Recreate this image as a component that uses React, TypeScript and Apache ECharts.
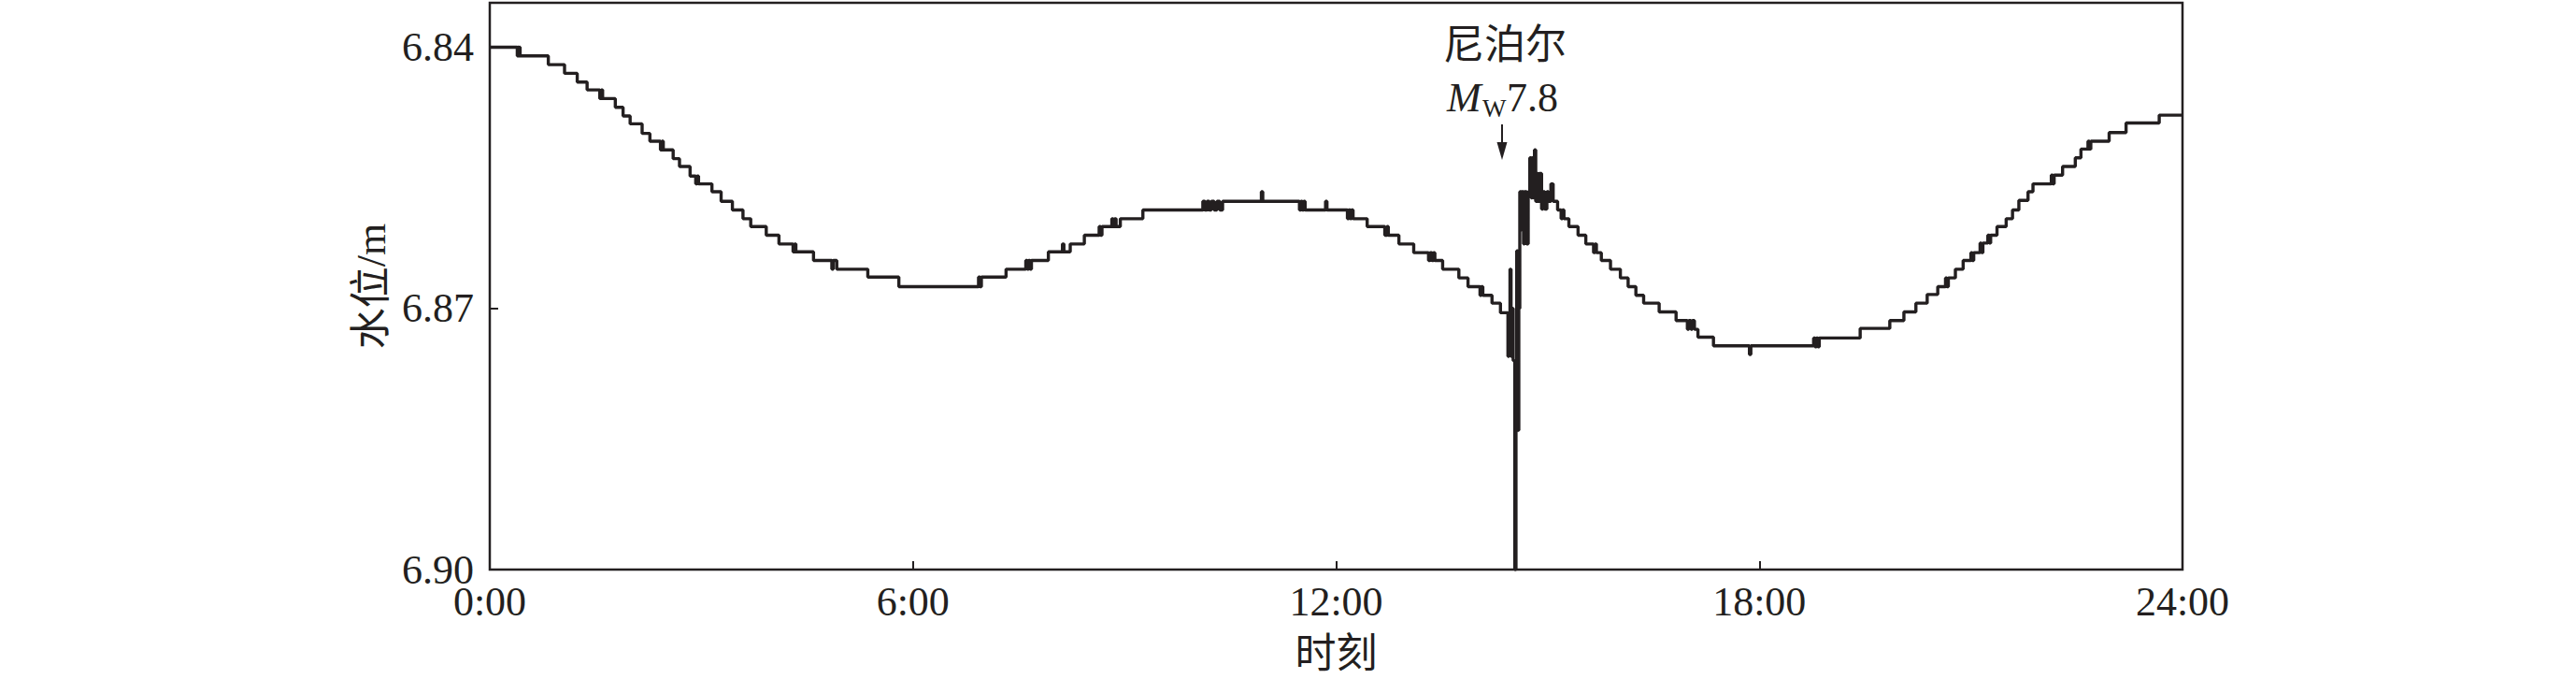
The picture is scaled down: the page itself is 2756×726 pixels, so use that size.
import { useEffect, useRef } from "react";
import * as echarts from "echarts";

// ---- data (hours since 0:00, water level in m) ----
const xTickHours = [0, 6, 12, 18, 24];
const yTickValues = [6.84, 6.87, 6.9];

const morningSteps: [number, number][] = [
  [0, 6.84], [0.39, 6.841], [0.4, 6.84], [0.41, 6.841], [0.42, 6.84], [0.43, 6.841],
  [0.83, 6.842], [1.06, 6.843], [1.24, 6.844], [1.38, 6.8449],
  [1.56, 6.8459], [1.58, 6.8449], [1.6, 6.8459],
  [1.78, 6.8469], [1.89, 6.8479], [1.99, 6.8488], [2.16, 6.8499], [2.27, 6.8508],
  [2.42, 6.8518], [2.44, 6.8508], [2.46, 6.8518],
  [2.6, 6.8528], [2.69, 6.8537], [2.84, 6.8548],
  [2.92, 6.8557], [2.94, 6.8548], [2.96, 6.8557],
  [3.15, 6.8566], [3.28, 6.8577], [3.44, 6.8587], [3.59, 6.8597], [3.7, 6.8606],
  [3.92, 6.8616], [4.1, 6.8626],
  [4.3, 6.8635], [4.32, 6.8626], [4.34, 6.8635],
  [4.59, 6.8645],
  [4.85, 6.8655], [4.87, 6.8645], [4.92, 6.8655],
  [5.36, 6.8664], [5.8, 6.8675],
];

const riseSteps: [number, number][] = [
  [6.93, 6.8664], [6.95, 6.8675], [6.97, 6.8664],
  [7.32, 6.8655], [7.6, 6.8645], [7.62, 6.8655], [7.64, 6.8645], [7.66, 6.8655], [7.68, 6.8645],
  [7.92, 6.8635], [8.12, 6.8626], [8.14, 6.8635], [8.23, 6.8626], [8.43, 6.8616],
  [8.64, 6.8606], [8.66, 6.8616], [8.68, 6.8606],
  [8.82, 6.8597], [8.84, 6.8606], [8.86, 6.8597], [8.88, 6.8606], [8.94, 6.8597],
  [9.26, 6.8587],
  [10.11, 6.8577], [10.14, 6.8587], [10.17, 6.8577], [10.2, 6.8587], [10.23, 6.8577],
  [10.27, 6.8587], [10.31, 6.8577], [10.35, 6.8587], [10.39, 6.8577],
  [10.94, 6.8566], [10.96, 6.8577],
  [11.48, 6.8587], [11.5, 6.8577], [11.52, 6.8587], [11.54, 6.8577], [11.56, 6.8587],
  [11.85, 6.8577], [11.87, 6.8587],
  [12.16, 6.8597], [12.18, 6.8587], [12.2, 6.8597], [12.22, 6.8587], [12.24, 6.8597],
];

const fallSteps: [number, number][] = [
  [12.44, 6.8606], [12.69, 6.8616], [12.72, 6.8606], [12.74, 6.8616],
  [12.89, 6.8626], [13.1, 6.8636],
  [13.31, 6.8645], [13.33, 6.8636], [13.36, 6.8645], [13.38, 6.8636], [13.4, 6.8645],
  [13.51, 6.8655], [13.74, 6.8665], [13.87, 6.8675],
  [14.04, 6.8685], [14.06, 6.8675], [14.08, 6.8685],
  [14.21, 6.8694], [14.33, 6.8705],
];

const quakeSteps: [number, number][] = [
  [14.436, 6.8755], [14.45, 6.8705], [14.465, 6.8655], [14.48, 6.8755], [14.495, 6.87],
  [14.51, 6.876], [14.533, 6.9], [14.55, 6.884], [14.56, 6.8634], [14.577, 6.884],
  [14.59, 6.87], [14.604, 6.8566], [14.615, 6.861], [14.626, 6.8566], [14.657, 6.8626],
  [14.67, 6.8566], [14.701, 6.8626], [14.723, 6.8566], [14.746, 6.8527], [14.765, 6.8573],
  [14.78, 6.8527], [14.8, 6.8573], [14.812, 6.8518], [14.83, 6.8577], [14.842, 6.8545],
  [14.86, 6.8577], [14.88, 6.8545], [14.913, 6.8586], [14.935, 6.8566], [14.957, 6.8586],
  [14.988, 6.8566], [15.01, 6.8577], [15.045, 6.8557], [15.077, 6.8577],
];

const recoverySteps: [number, number][] = [
  [15.14, 6.8587], [15.19, 6.8597], [15.21, 6.8587], [15.23, 6.8597],
  [15.3, 6.8606], [15.43, 6.8616], [15.54, 6.8626],
  [15.65, 6.8636], [15.67, 6.8626], [15.69, 6.8636],
  [15.76, 6.8645], [15.89, 6.8655], [16.03, 6.8665], [16.14, 6.8675], [16.25, 6.8685],
  [16.36, 6.8694], [16.58, 6.8704], [16.82, 6.8714],
  [16.98, 6.8724], [17.0, 6.8714], [17.03, 6.8724], [17.05, 6.8714], [17.08, 6.8724],
  [17.13, 6.8733], [17.35, 6.8743], [17.86, 6.8753], [17.88, 6.8743],
];

const eveningSteps: [number, number][] = [
  [18.77, 6.8734], [18.79, 6.8744], [18.81, 6.8734], [18.83, 6.8744], [18.85, 6.8734],
  [19.43, 6.8723], [19.85, 6.8714], [20.05, 6.8704], [20.22, 6.8694], [20.38, 6.8684],
  [20.53, 6.8675], [20.64, 6.8665], [20.66, 6.8675], [20.68, 6.8665],
  [20.78, 6.8655], [20.89, 6.8645],
  [21.0, 6.8636], [21.02, 6.8645], [21.04, 6.8636],
  [21.13, 6.8625], [21.15, 6.8636], [21.17, 6.8625],
  [21.24, 6.8616], [21.26, 6.8625], [21.28, 6.8616],
  [21.37, 6.8606], [21.5, 6.8597], [21.59, 6.8587], [21.68, 6.8576], [21.81, 6.8566],
  [21.88, 6.8557], [22.14, 6.8547], [22.16, 6.8557], [22.18, 6.8547],
  [22.3, 6.8537], [22.48, 6.8527], [22.56, 6.8517],
  [22.66, 6.8508], [22.68, 6.8517], [22.7, 6.8508],
  [22.96, 6.8498], [23.2, 6.8487], [23.67, 6.8478], [24.0, 6.8478],
];

const INK = "#231f20";
const SERIF = '"Liberation Serif", "Noto Sans CJK SC", serif';

export default function App() {
  const ref = useRef<HTMLDivElement>(null);

  useEffect(() => {
    document.body.style.margin = "0";
    document.body.style.overflow = "hidden";
    const chart = echarts.init(ref.current!, null, { renderer: "svg" });
    const data = [
      ...morningSteps,
      ...riseSteps,
      ...fallSteps,
      ...quakeSteps,
      ...recoverySteps,
      ...eveningSteps,
    ];
    chart.setOption({
      animation: false,
      backgroundColor: "#ffffff",
      grid: {
        left: 524,
        right: 421,
        top: 3,
        bottom: 113,
        show: true,
        borderColor: INK,
        borderWidth: 2.5,
        backgroundColor: "transparent",
      },
      xAxis: {
        type: "value",
        min: 0,
        max: 24,
        interval: 6,
        axisLine: { show: false },
        splitLine: { show: false },
        axisTick: {
          show: true,
          inside: true,
          length: 9,
          customValues: xTickHours,
          lineStyle: { color: INK, width: 2 },
        },
        axisLabel: {
          customValues: xTickHours,
          formatter: (v: number) => `${v}:00`,
          fontSize: 44,
          fontFamily: SERIF,
          color: INK,
          margin: 12,
        },
        name: "时刻",
        nameLocation: "middle",
        nameGap: 68,
        nameTextStyle: { fontSize: 44, fontFamily: SERIF, color: INK },
      },
      yAxis: {
        type: "value",
        inverse: true,
        min: 6.8349,
        max: 6.9,
        axisLine: { show: false },
        splitLine: { show: false },
        axisTick: {
          show: true,
          inside: true,
          length: 9,
          customValues: yTickValues,
          lineStyle: { color: INK, width: 2 },
        },
        axisLabel: {
          customValues: yTickValues,
          formatter: (v: number) => v.toFixed(2),
          fontSize: 44,
          fontFamily: SERIF,
          color: INK,
          margin: 17,
        },
        name: "水位/m",
        nameLocation: "middle",
        nameRotate: 90,
        nameGap: 94,
        nameTextStyle: { fontSize: 44, fontFamily: SERIF, color: INK },
      },
      graphic: [
        {
          type: "text",
          style: {
            text: "尼泊尔",
            x: 1610,
            y: 48,
            align: "center",
            verticalAlign: "middle",
            fontSize: 44,
            fontFamily: SERIF,
            fill: INK,
          },
        },
        {
          type: "text",
          style: {
            text: "M",
            x: 1548,
            y: 104,
            align: "left",
            verticalAlign: "middle",
            fontSize: 44,
            fontStyle: "italic",
            fontFamily: "Liberation Serif",
            fill: INK,
          },
        },
        {
          type: "text",
          style: {
            text: "W",
            x: 1586,
            y: 116,
            align: "left",
            verticalAlign: "middle",
            fontSize: 27,
            fontFamily: "Liberation Serif",
            fill: INK,
          },
        },
        {
          type: "text",
          style: {
            text: "7.8",
            x: 1612,
            y: 104,
            align: "left",
            verticalAlign: "middle",
            fontSize: 44,
            fontFamily: "Liberation Serif",
            fill: INK,
          },
        },
        {
          type: "line",
          shape: { x1: 1607, y1: 133, x2: 1607, y2: 156 },
          style: { stroke: INK, lineWidth: 2 },
        },
        {
          type: "polygon",
          shape: { points: [[1601.5, 152], [1612.5, 152], [1607, 171]] },
          style: { fill: INK },
        },
      ],
      series: [
        {
          type: "line",
          data,
          step: "end",
          symbol: "none",
          lineStyle: { color: INK, width: 3.4 },
        },
      ],
    });
    return () => chart.dispose();
  }, []);

  return (
    <div
      ref={ref}
      style={{ position: "fixed", left: 0, top: 0, width: 2756, height: 726, background: "#fff" }}
    />
  );
}
